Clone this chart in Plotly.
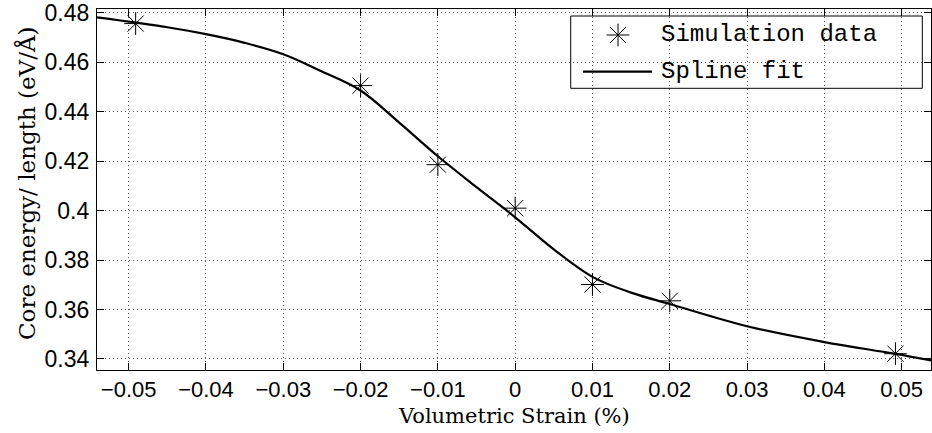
import plotly.graph_objects as go

# Simulation data
strain = [-0.0491, -0.02, -0.01, 0.0, 0.01, 0.02, 0.0492]
energy = [0.4757, 0.4506, 0.4186, 0.4010, 0.3701, 0.3635, 0.3421]

# Spline fit
fit_x = [-0.0541, -0.045, -0.04, -0.035, -0.03, -0.025, -0.02, -0.015, -0.01, -0.005,
         0.0, 0.005, 0.01, 0.015, 0.02, 0.03, 0.04, 0.049, 0.0539]
fit_y = [0.4782, 0.4742, 0.4714, 0.4679, 0.4633, 0.4563, 0.4486, 0.4356, 0.4220, 0.4095,
         0.3973, 0.3843, 0.3732, 0.3668, 0.3622, 0.3532, 0.3468, 0.3421, 0.3393]

x_ticks = [-0.05, -0.04, -0.03, -0.02, -0.01, 0.0, 0.01, 0.02, 0.03, 0.04, 0.05]
x_ticktext = ["\u22120.05", "\u22120.04", "\u22120.03", "\u22120.02", "\u22120.01",
              "0", "0.01", "0.02", "0.03", "0.04", "0.05"]
y_ticks = [0.34, 0.36, 0.38, 0.40, 0.42, 0.44, 0.46, 0.48]
y_ticktext = ["0.34", "0.36", "0.38", "0.4", "0.42", "0.44", "0.46", "0.48"]

legend_labels = ["Simulation data", "Spline fit"]

star = dict(symbol="asterisk-open", size=19, color="black", line=dict(color="#222", width=1))

fig = go.Figure()
fig.add_trace(go.Scatter(x=fit_x, y=fit_y, mode="lines",
                         line=dict(color="black", width=2.2, shape="spline", smoothing=1.0),
                         showlegend=False, hoverinfo="skip"))
fig.add_trace(go.Scatter(x=strain, y=energy, mode="markers", marker=star, showlegend=False))

# legend star sample on an overlay axis
fig.add_trace(go.Scatter(x=[0.6247], y=[0.928], mode="markers", xaxis="x2", yaxis="y2",
                         marker=star, showlegend=False, hoverinfo="skip"))

axis_common = dict(showline=True, linecolor="black", linewidth=1.2, mirror="ticks",
                   ticks="inside", ticklen=7, tickcolor="black", tickwidth=1,
                   showgrid=True, gridcolor="#555", gridwidth=1, griddash="1px,3px",
                   zeroline=False)

fig.update_layout(
    width=932, height=433,
    margin=dict(l=97, r=1, t=9, b=63),
    paper_bgcolor="white", plot_bgcolor="white",
    xaxis=dict(range=[-0.0541, 0.0538], tickvals=x_ticks, ticktext=x_ticktext,
               ticklabelstandoff=-1,
               tickfont=dict(family="Liberation Sans, Arial, sans-serif", size=22, color="black"),
               **axis_common),
    yaxis=dict(range=[0.3355, 0.4816], tickvals=y_ticks, ticktext=y_ticktext,
               ticklabelstandoff=2,
               tickfont=dict(family="Liberation Sans, Arial, sans-serif", size=23, color="black"),
               **axis_common),
    xaxis2=dict(overlaying="x", range=[0, 1], visible=False),
    yaxis2=dict(overlaying="y", range=[0, 1], visible=False),
    showlegend=False,
)

fig.add_shape(type="rect", xref="paper", yref="paper", x0=0.568, x1=0.9896, y0=0.7803, y1=0.9806,
              line=dict(color="black", width=1), fillcolor="white", layer="between")
fig.add_shape(type="line", xref="paper", yref="paper", x0=0.5827, x1=0.6655, y0=0.8263, y1=0.8263,
              line=dict(color="black", width=2.2))

leg_font = dict(family="Liberation Mono, Courier New, monospace", size=24, color="black")
fig.add_annotation(x=0.6739, y=0.928, xref="paper", yref="paper", text=legend_labels[0],
                   showarrow=False, xanchor="left", yanchor="middle", font=leg_font)
fig.add_annotation(x=0.6739, y=0.8263, xref="paper", yref="paper", text=legend_labels[1],
                   showarrow=False, xanchor="left", yanchor="middle", font=leg_font)

fig.add_annotation(x=0.5, y=0, xref="paper", yref="paper", yshift=-46, text="Volumetric Strain (%)",
                   showarrow=False, xanchor="center", yanchor="middle", borderpad=0,
                   font=dict(family="DejaVu Serif, serif", size=21, color="black"))
fig.add_annotation(x=0, y=0.5, xref="paper", yref="paper", xshift=-71, yshift=6.5,
                   text="Core energy/ length (eV/Å)",
                   showarrow=False, xanchor="center", yanchor="middle", textangle=-90, borderpad=0,
                   font=dict(family="DejaVu Serif, serif", size=23, color="black"))

fig.write_html("out.html")
